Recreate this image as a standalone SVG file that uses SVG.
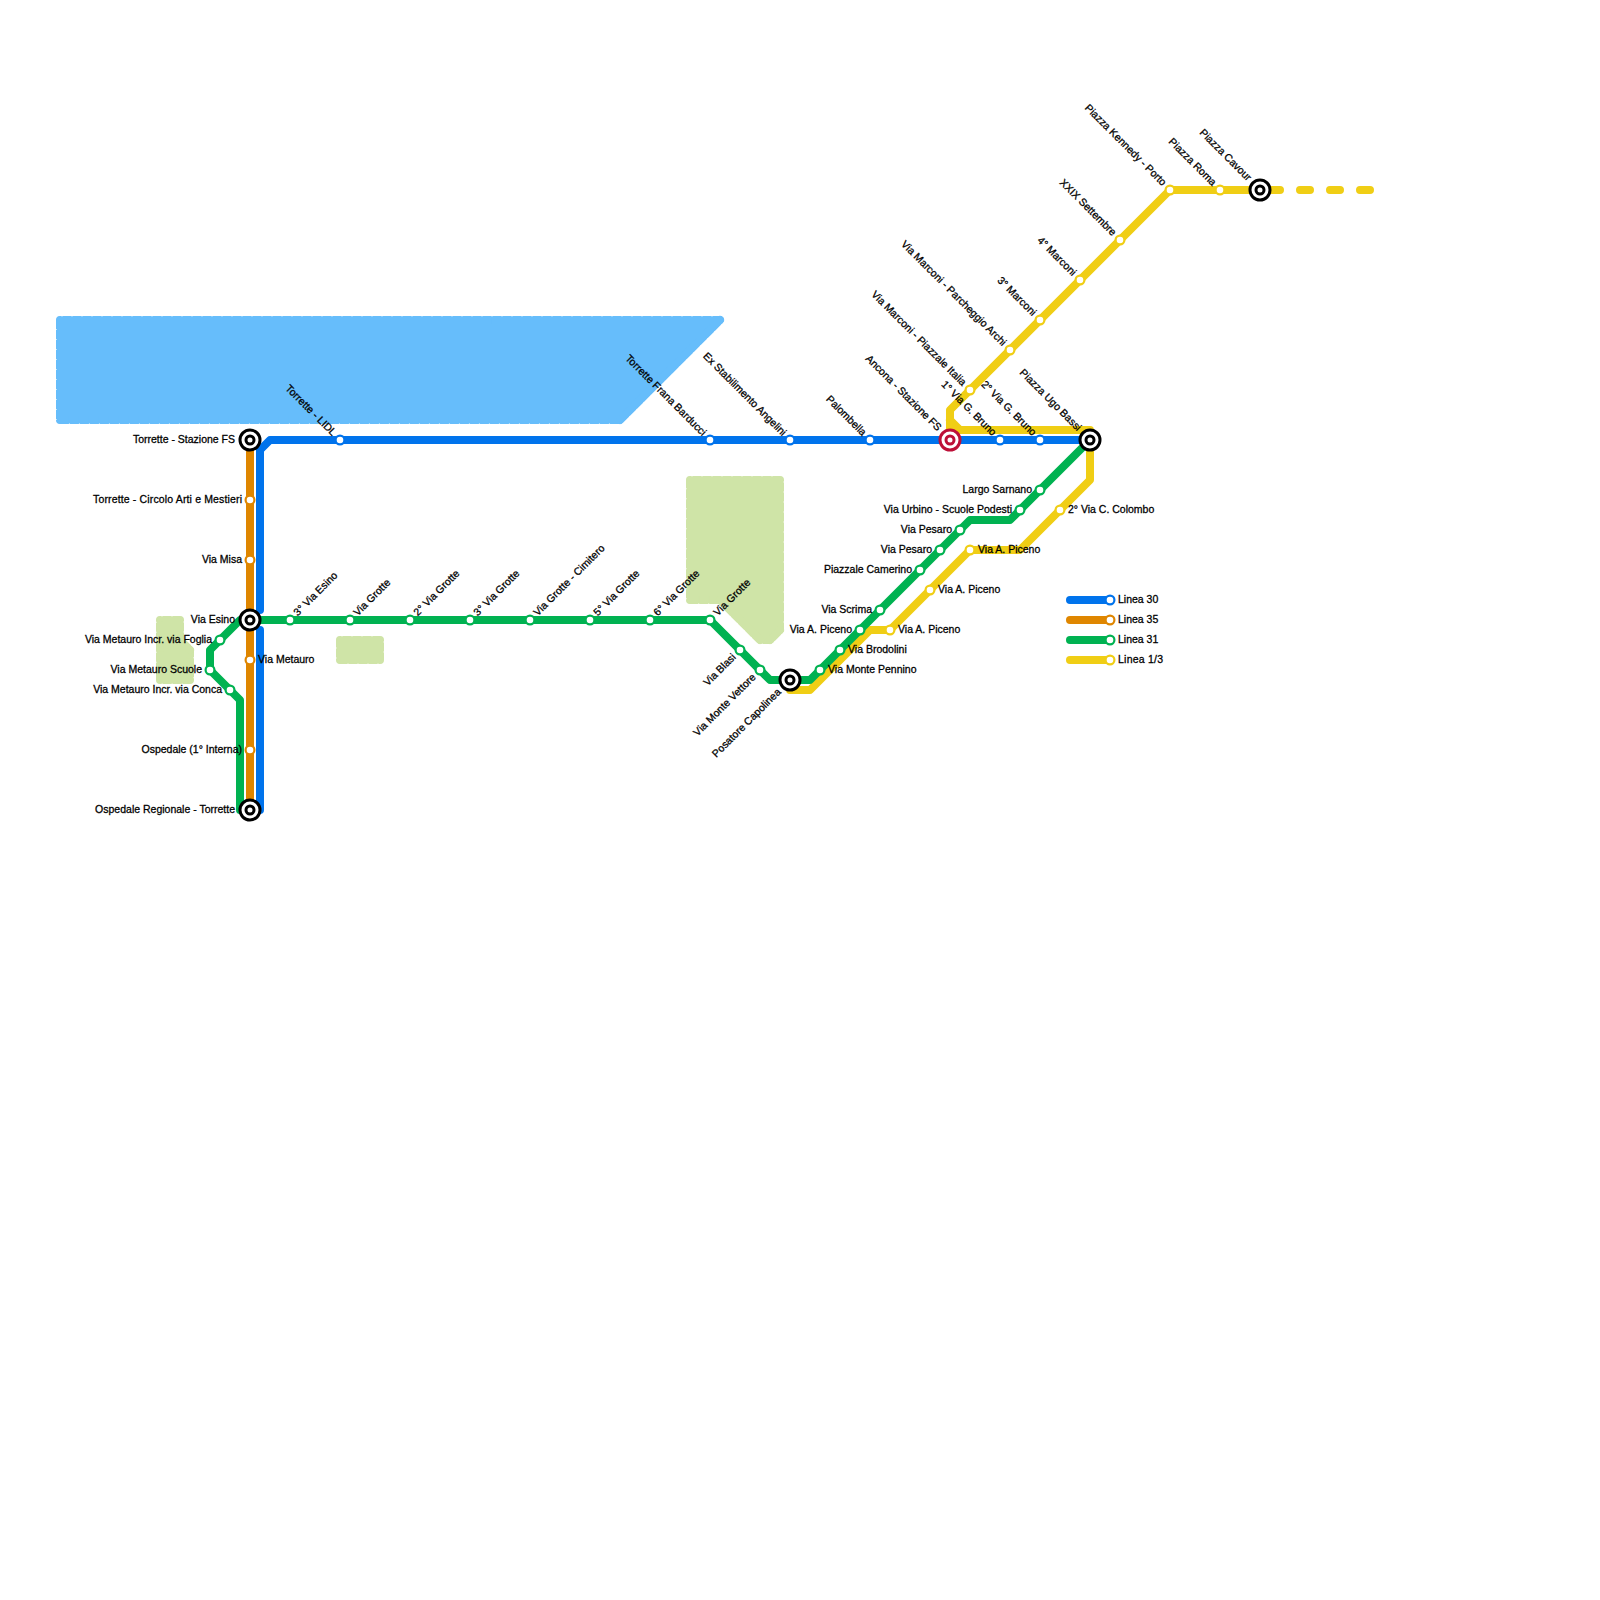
<svg xmlns="http://www.w3.org/2000/svg" width="1600" height="1600" viewBox="0 0 1600 1600">
<style>
.water{fill:#66bdfb;stroke:#66bdfb;stroke-width:6.8;stroke-linejoin:round}
.park{fill:#cfe4a7;stroke:#cfe4a7;stroke-width:6.8;stroke-linejoin:round}
.rim{fill:none;stroke-width:8;stroke-linejoin:round;stroke-dasharray:9 1;stroke-dashoffset:7.5}
.diag{fill:none;stroke-width:8;stroke-linecap:round}
.ln{fill:none;stroke-width:8;stroke-linecap:round;stroke-linejoin:round}
.blue{stroke:#0073ec}.orange{stroke:#df8600}.green{stroke:#00b251}.yellow{stroke:#f0ce15}
.st{fill:#fff;stroke-width:2.2}
.x1{fill:#fff;stroke:#000;stroke-width:3}
.red{stroke:#bd1038}
text{font-family:"Liberation Sans",Arial,sans-serif;font-size:10.5px;fill:#000;stroke:#000;stroke-width:.28}
.e{text-anchor:end}
</style>
<rect width="1600" height="1600" fill="#fff"/>
<g id="water"><polygon class="water" points="60,320 720,320 620,420 60,420"/><polygon class="rim" stroke="#66bdfb" points="60,320 720,320 620,420 60,420"/><path class="diag" stroke="#66bdfb" d="M720,320L620,420"/></g>
<g id="parks">
<polygon class="park" points="690,480 780,480 780,630 770,640 760,640 720,600 690,600"/><polygon class="rim" stroke="#cfe4a7" points="690,480 780,480 780,630 770,640 760,640 720,600 690,600"/><path class="diag" stroke="#cfe4a7" d="M780,630L770,640M760,640L720,600"/>
<polygon class="park" points="340,640 380,640 380,660 340,660"/><polygon class="rim" stroke="#cfe4a7" points="340,640 380,640 380,660 340,660"/>
<polygon class="park" points="160,620 180,620 180,640 190,650 190,680 160,680"/><polygon class="rim" stroke="#cfe4a7" points="160,620 180,620 180,640 190,650 190,680 160,680"/><path class="diag" stroke="#cfe4a7" d="M180,640L190,650"/>
</g>
<g id="connectors">
<path class="ln blue" d="M1090,440H270L260,450V610M260,630V810"/>
<path class="ln orange" d="M250,440V810"/>
<path class="ln yellow" d="M790,690H810L870,630H890L970,550H1020L1090,480V430H960L950,420M950,440V410L1170,190H1260"/>
<path class="ln yellow" stroke-dasharray="10 20" d="M1270,190H1370"/>
<path class="ln green" d="M250,620H710L770,680H810L970,520H1010L1090,440"/>
<path class="ln green" d="M250,620H240L210,650V670L240,700V810"/>
<path class="ln blue" d="M1070,600H1110"/>
<path class="ln orange" d="M1070,620H1110"/>
<path class="ln green" d="M1070,640H1110"/>
<path class="ln yellow" d="M1070,660H1110"/>
</g>
<g id="stations">
<g class="st blue">
<circle cx="340" cy="440" r="4.4"/><circle cx="710" cy="440" r="4.4"/><circle cx="790" cy="440" r="4.4"/><circle cx="870" cy="440" r="4.4"/><circle cx="1000" cy="440" r="4.4"/><circle cx="1040" cy="440" r="4.4"/><circle cx="1110" cy="600" r="4.4"/>
</g>
<g class="st orange">
<circle cx="250" cy="500" r="4.4"/><circle cx="250" cy="560" r="4.4"/><circle cx="250" cy="660" r="4.4"/><circle cx="250" cy="750" r="4.4"/><circle cx="1110" cy="620" r="4.4"/>
</g>
<g class="st green">
<circle cx="220" cy="640" r="4.4"/><circle cx="210" cy="670" r="4.4"/><circle cx="230" cy="690" r="4.4"/><circle cx="290" cy="620" r="4.4"/><circle cx="350" cy="620" r="4.4"/><circle cx="410" cy="620" r="4.4"/><circle cx="470" cy="620" r="4.4"/><circle cx="530" cy="620" r="4.4"/><circle cx="590" cy="620" r="4.4"/><circle cx="650" cy="620" r="4.4"/><circle cx="710" cy="620" r="4.4"/><circle cx="740" cy="650" r="4.4"/><circle cx="760" cy="670" r="4.4"/><circle cx="820" cy="670" r="4.4"/><circle cx="840" cy="650" r="4.4"/><circle cx="860" cy="630" r="4.4"/><circle cx="880" cy="610" r="4.4"/><circle cx="920" cy="570" r="4.4"/><circle cx="940" cy="550" r="4.4"/><circle cx="960" cy="530" r="4.4"/><circle cx="1020" cy="510" r="4.4"/><circle cx="1040" cy="490" r="4.4"/><circle cx="1110" cy="640" r="4.4"/>
</g>
<g class="st yellow">
<circle cx="890" cy="630" r="4.4"/><circle cx="930" cy="590" r="4.4"/><circle cx="970" cy="550" r="4.4"/><circle cx="1060" cy="510" r="4.4"/><circle cx="970" cy="390" r="4.4"/><circle cx="1010" cy="350" r="4.4"/><circle cx="1040" cy="320" r="4.4"/><circle cx="1080" cy="280" r="4.4"/><circle cx="1120" cy="240" r="4.4"/><circle cx="1170" cy="190" r="4.4"/><circle cx="1220" cy="190" r="4.4"/><circle cx="1110" cy="660" r="4.4"/>
</g>
<g id="int-torrette"><circle class="x1" cx="250" cy="440" r="10"/><circle class="x1" cx="250" cy="440" r="4"/></g>
<g id="int-esino"><circle class="x1" cx="250" cy="620" r="10"/><circle class="x1" cx="250" cy="620" r="4"/></g>
<g id="int-ospedale"><circle class="x1" cx="250" cy="810" r="10"/><circle class="x1" cx="250" cy="810" r="4"/></g>
<g id="int-posatore"><circle class="x1" cx="790" cy="680" r="10"/><circle class="x1" cx="790" cy="680" r="4"/></g>
<g id="int-bassi"><circle class="x1" cx="1090" cy="440" r="10"/><circle class="x1" cx="1090" cy="440" r="4"/></g>
<g id="int-cavour"><circle class="x1" cx="1260" cy="190" r="10"/><circle class="x1" cx="1260" cy="190" r="4"/></g>
<g id="int-ancona"><circle class="x1 red" cx="950" cy="440" r="10"/><circle class="x1 red" cx="950" cy="440" r="4"/></g>
</g>
<g id="labels">
<text class="e" x="235" y="442.5">Torrette - Stazione FS</text>
<text class="e" x="242" y="502.5" textLength="149">Torrette - Circolo Arti e Mestieri</text>
<text class="e" x="242" y="562.5">Via Misa</text>
<text class="e" x="235" y="622.5">Via Esino</text>
<text class="e" x="212" y="642.5">Via Metauro Incr. via Foglia</text>
<text class="e" x="202" y="672.5">Via Metauro Scuole</text>
<text class="e" x="222" y="692.5">Via Metauro Incr. via Conca</text>
<text x="258" y="662.5">Via Metauro</text>
<text class="e" x="242" y="752.5">Ospedale (1° Interna)</text>
<text class="e" x="235" y="812.5">Ospedale Regionale - Torrette</text>
<text class="e" x="852" y="632.5">Via A. Piceno</text>
<text class="e" x="872" y="612.5">Via Scrima</text>
<text class="e" x="912" y="572.5">Piazzale Camerino</text>
<text class="e" x="932" y="552.5">Via Pesaro</text>
<text class="e" x="952" y="532.5">Via Pesaro</text>
<text class="e" x="1012" y="512.5">Via Urbino - Scuole Podesti</text>
<text class="e" x="1032" y="492.5">Largo Sarnano</text>
<text x="828" y="672.5">Via Monte Pennino</text>
<text x="848" y="652.5">Via Brodolini</text>
<text x="898" y="632.5">Via A. Piceno</text>
<text x="938" y="592.5">Via A. Piceno</text>
<text x="978" y="552.5">Via A. Piceno</text>
<text x="1068" y="512.5">2° Via C. Colombo</text>
<text x="1118" y="602.5">Linea 30</text>
<text x="1118" y="622.5">Linea 35</text>
<text x="1118" y="642.5">Linea 31</text>
<text x="1118" y="662.5" textLength="45">Linea 1/3</text>
<text class="e" x="-8" y="3" transform="translate(340,440) rotate(45)">Torrette - LIDL</text>
<text class="e" x="-8" y="3" transform="translate(710,440) rotate(45)">Torrette Frana Barducci</text>
<text class="e" x="-8" y="3" transform="translate(790,440) rotate(45)">Ex Stabilimento Angelini</text>
<text class="e" x="-8" y="3" transform="translate(870,440) rotate(45)">Palombella</text>
<text class="e" x="-15" y="3" transform="translate(950,440) rotate(45)">Ancona - Stazione FS</text>
<text class="e" x="-8" y="3" transform="translate(1000,440) rotate(45)">1° Via G. Bruno</text>
<text class="e" x="-8" y="3" transform="translate(1040,440) rotate(45)">2° Via G. Bruno</text>
<text class="e" x="-15" y="3" transform="translate(1090,440) rotate(45)">Piazza Ugo Bassi</text>
<text class="e" x="-8" y="3" transform="translate(970,390) rotate(45)">Via Marconi - Piazzale Italia</text>
<text class="e" x="-8" y="3" transform="translate(1010,350) rotate(45)">Via Marconi - Parcheggio Archi</text>
<text class="e" x="-8" y="3" transform="translate(1040,320) rotate(45)">3° Marconi</text>
<text class="e" x="-8" y="3" transform="translate(1080,280) rotate(45)">4° Marconi</text>
<text class="e" x="-8" y="3" transform="translate(1120,240) rotate(45)">XXIX Settembre</text>
<text class="e" x="-8" y="3" transform="translate(1170,190) rotate(45)">Piazza Kennedy - Porto</text>
<text class="e" x="-8" y="3" transform="translate(1220,190) rotate(45)">Piazza Roma</text>
<text class="e" x="-15" y="3" transform="translate(1260,190) rotate(45)">Piazza Cavour</text>
<text x="8" y="3" transform="translate(290,620) rotate(-45)">3° Via Esino</text>
<text x="8" y="3" transform="translate(350,620) rotate(-45)">Via Grotte</text>
<text x="8" y="3" transform="translate(410,620) rotate(-45)">2° Via Grotte</text>
<text x="8" y="3" transform="translate(470,620) rotate(-45)">3° Via Grotte</text>
<text x="8" y="3" transform="translate(530,620) rotate(-45)">Via Grotte - Cimitero</text>
<text x="8" y="3" transform="translate(590,620) rotate(-45)">5° Via Grotte</text>
<text x="8" y="3" transform="translate(650,620) rotate(-45)">6° Via Grotte</text>
<text x="8" y="3" transform="translate(710,620) rotate(-45)">Via Grotte</text>
<text class="e" x="-8" y="3" transform="translate(740,650) rotate(-45)">Via Blasi</text>
<text class="e" x="-8" y="3" transform="translate(760,670) rotate(-45)">Via Monte Vettore</text>
<text class="e" x="-15" y="3" transform="translate(790,680) rotate(-45)">Posatore Capolinea</text>
</g>
</svg>
